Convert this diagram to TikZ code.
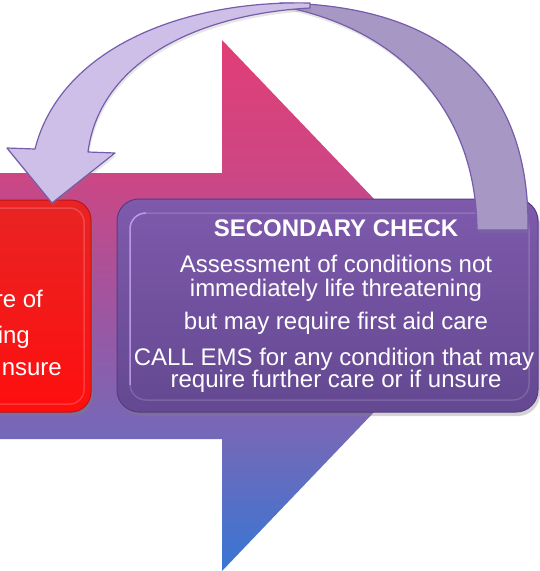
\documentclass[tikz,border=0pt]{standalone}
\usepackage{fontspec}
\setmainfont{Liberation Sans}
\usetikzlibrary{shadows}

\definecolor{arrowtop}{RGB}{225,62,118}
\definecolor{arrowup}{RGB}{205,70,132}
\definecolor{arrowmid}{RGB}{160,85,160}
\definecolor{arrowlow}{RGB}{115,105,185}
\definecolor{arrowbot}{RGB}{55,118,212}
\definecolor{redtop}{RGB}{232,36,36}
\definecolor{redbot}{RGB}{255,14,14}
\definecolor{redline}{RGB}{190,20,20}
\definecolor{sectop}{RGB}{126,90,172}
\definecolor{secbot}{RGB}{100,72,145}
\definecolor{secline}{RGB}{88,60,128}
\definecolor{secglow}{RGB}{205,170,250}
\definecolor{ribbonfront}{RGB}{206,191,233}
\definecolor{ribbonback}{RGB}{166,151,196}
\definecolor{ribbonline}{RGB}{118,92,170}

\pgfdeclareverticalshading{bigarrow}{100bp}{color(0bp)=(arrowbot); color(25bp)=(arrowbot); color(37.5bp)=(arrowlow); color(50bp)=(arrowmid); color(62.5bp)=(arrowup); color(75bp)=(arrowtop); color(100bp)=(arrowtop)}

\tikzset{
    boxtext/.style={text=white, inner sep=0pt, anchor=base, font=\fontsize{24}{24}\selectfont},
    titletext/.style={boxtext, font=\bfseries\fontsize{24}{24}\selectfont},
    ribbon/.style={draw=ribbonline, line width=1.2pt, line join=round,
        drop shadow={opacity=0.2, shadow xshift=1pt, shadow yshift=-3pt}},
    boxshadow/.style={drop shadow={opacity=0.35, shadow xshift=2pt, shadow yshift=-4pt}},
}

\begin{document}
\begin{tikzpicture}[x=1pt, y=-1pt]
    \useasboundingbox (0,0) rectangle (540,571);
    \clip (0,0) rectangle (540,571);

    % Define coordinates
    \coordinate (HT) at (222,40);
    \coordinate (HB) at (222,571);
    \coordinate (Tip) at (476,305.5);

    % Big arrow
    \shade[shading=bigarrow] (-5,173) -- (222,173) -- (HT) -- (Tip) -- (HB) -- (222,439) -- (-5,439) -- cycle;

    % Red box (cut by the page)
    \path[boxshadow, top color=redtop, bottom color=redbot, draw=redline, line width=1pt, rounded corners=20pt]
        (-40,200) rectangle (91,412);
    \draw[white, opacity=0.18, line width=1.5pt, rounded corners=14pt] (-40,208) rectangle (84,404);

    % Secondary check box
    \path[boxshadow, top color=sectop, bottom color=secbot, draw=secline, line width=1pt, rounded corners=22pt]
        (117,199) rectangle (538,412);
    \draw[white, opacity=0.15, line width=1.5pt, rounded corners=16pt] (130,213) rectangle (529,400);
    \draw[secglow, opacity=0.7, line width=1.5pt] (130,385) -- (130,229) arc (180:90:16pt);

    % Text
    \node[boxtext, anchor=base east] (careof) at (43,307) {re of};
    \node[boxtext, anchor=base east] (threat) at (30,343) {ing};
    \node[boxtext, anchor=base east] (unsure) at (62,375) {unsure};

    \node[titletext] (title) at (336,236) {SECONDARY CHECK};
    \node[boxtext] (assess) at (336,272) {Assessment of conditions not};
    \node[boxtext] (immed) at (336,296) {immediately life threatening};
    \node[boxtext] (firstaid) at (336,329) {but may require first aid care};
    \node[boxtext] (callems) at (334,365) {CALL EMS for any condition that may};
    \node[boxtext] (further) at (336,387) {require further care or if unsure};

    % Curved arrow, back part then front part
    \path[ribbon, fill=ribbonback] (528,230) .. controls (530,80) and (440,5) .. (280,3)
        -- (285,7) .. controls (400,30) and (476,110) .. (477,230) -- cycle;
    \path[ribbon, fill=ribbonfront] (310,3) .. controls (180,0) and (60,50) .. (35,149)
        -- (7,148) -- (52,203) -- (115,153) -- (88,152)
        .. controls (100,60) and (200,14) .. (310,8) -- cycle;
\end{tikzpicture}
\end{document}
